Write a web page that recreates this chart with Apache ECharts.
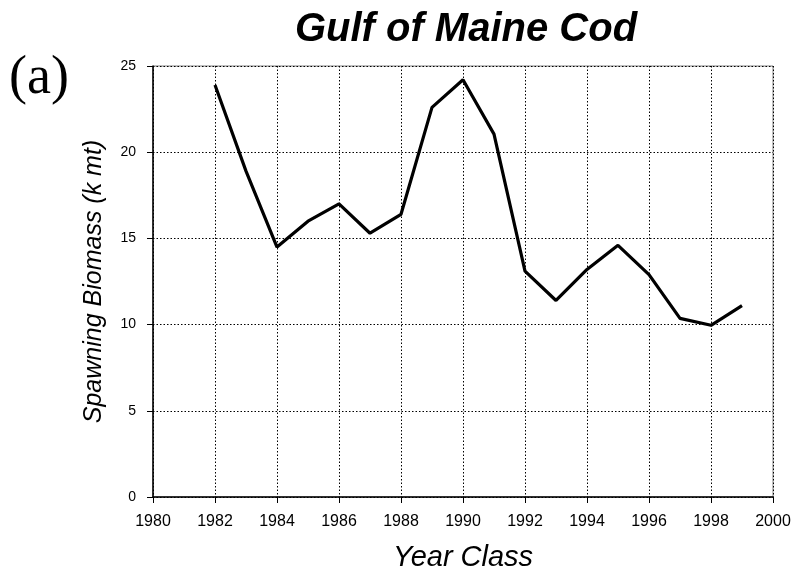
<!DOCTYPE html>
<html>
<head>
<meta charset="utf-8">
<script src="https://cdn.jsdelivr.net/npm/echarts@6/dist/echarts.min.js"></script>
<style>html,body{margin:0;padding:0;background:#fff}#c{width:795px;height:577px}</style>
</head>
<body>
<div id="c"></div>
<script>
var years = [1982,1983,1984,1985,1986,1987,1988,1989,1990,1991,1992,1993,1994,1995,1996,1997,1998,1999];
var biomass = [23.9,18.9,14.5,16.0,17.0,15.3,16.4,22.6,24.2,21.05,13.1,11.4,13.2,14.6,12.9,10.36,9.96,11.1];

var chart = echarts.init(document.getElementById('c'), null, {renderer:'canvas'});
var font = '"Liberation Sans", Arial, sans-serif';
chart.setOption({
  animation:false,
  backgroundColor:'#fff',
  graphic:[{
    type:'text', x:466, y:30,
    style:{text:'Gulf of Maine Cod', font:'italic bold 40px "Liberation Sans", Arial, sans-serif',
           fill:'#000', align:'center', verticalAlign:'middle'}
  },{
    type:'text', x:9, y:52,
    style:{text:'(a)', font:'54px "Liberation Serif", "Times New Roman", serif', fill:'#000'}
  }],
  grid:{left:153, right:22, top:66, bottom:77, show:true, borderColor:'#808080', borderWidth:1, containLabel:false},
  xAxis:{
    type:'value', min:1980, max:2000, interval:2,
    name:'Year Class', nameLocation:'middle', nameGap:46,
    nameTextStyle:{fontFamily:font, fontSize:29, fontStyle:'italic', color:'#000'},
    axisLine:{show:true, lineStyle:{color:'#000', width:1.5}},
    axisTick:{show:true, length:6, lineStyle:{color:'#000'}},
    axisLabel:{fontFamily:font, fontSize:16, color:'#000', margin:17, formatter:function(v){return String(v);}},
    splitLine:{show:true, lineStyle:{color:'#000', type:[1.5,2], width:1}}
  },
  yAxis:{
    type:'value', min:0, max:25, interval:5,
    name:'Spawning Biomass (k mt)', nameLocation:'middle', nameGap:46,
    nameTextStyle:{fontFamily:font, fontSize:25, fontStyle:'italic', color:'#000'},
    axisLine:{show:true, lineStyle:{color:'#000', width:1.5}},
    axisTick:{show:true, length:6, lineStyle:{color:'#000'}},
    axisLabel:{fontFamily:font, fontSize:14, color:'#000', margin:17},
    splitLine:{show:true, lineStyle:{color:'#000', type:[1.5,2], width:1}}
  },
  series:[{
    type:'line',
    data:years.map(function(y,i){return [y, biomass[i]];}),
    showSymbol:false,
    lineStyle:{color:'#000', width:3.2},
    z:5
  }]
});
</script>
</body>
</html>
